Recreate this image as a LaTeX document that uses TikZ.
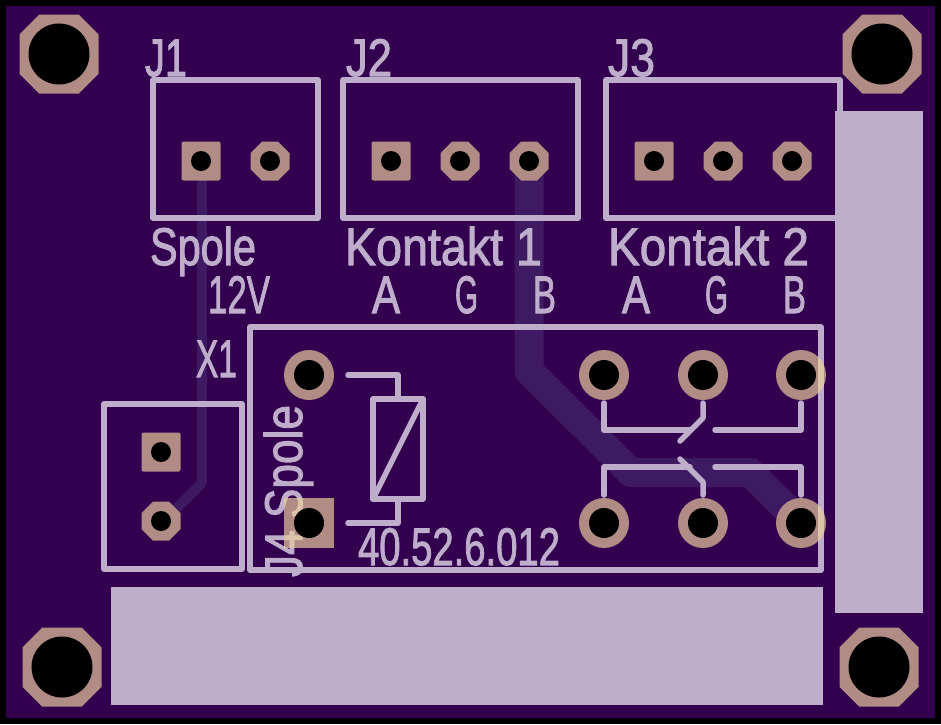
\documentclass[tikz,border=0pt]{standalone}
\usepackage{graphicx}
\usepackage{fontspec}
\setmainfont[FakeBold=2]{Liberation Sans}
\definecolor{board}{HTML}{330050}
\definecolor{trace}{HTML}{3E1A62}
\definecolor{silk}{HTML}{BFAECB}
\definecolor{copper}{HTML}{B08C84}
\definecolor{silkcu}{HTML}{DCC4A8}
\newsavebox\pcbbox
\newcommand\pcbtxt[2]{\sbox\pcbbox{\fontsize{53}{53}\selectfont #2}%
  \pgfmathsetmacro\pcbxs{#1/\the\wd\pcbbox}\scalebox{\pcbxs}[1]{\usebox\pcbbox}}
\newcommand\octpath[3]{% x y half
  (#1-#3,#2-#3*0.5) -- (#1-#3*0.5,#2-#3) -- (#1+#3*0.5,#2-#3) -- (#1+#3,#2-#3*0.5)
  -- (#1+#3,#2+#3*0.5) -- (#1+#3*0.5,#2+#3) -- (#1-#3*0.5,#2+#3) -- (#1-#3,#2+#3*0.5) -- cycle}
\newcommand\smallpad[2]{% x y
  (#1-19.5,#2-8) -- (#1-8,#2-19.5) -- (#1+8,#2-19.5) -- (#1+19.5,#2-8)
  -- (#1+19.5,#2+8) -- (#1+8,#2+19.5) -- (#1-8,#2+19.5) -- (#1-19.5,#2+8) -- cycle}
\tikzset{
  x=1pt,y=-1pt,
  silkline/.style={line width=5.5pt,line join=round,line cap=round},
  label/.style={inner sep=0pt,outer sep=0pt,anchor=base west,text=silk},
  cu/.style={fill=copper,draw=none},
  hole/.style={fill=black,draw=none},
}
\newcommand\relaysilk{%
  \draw[silkline] (250,327) rectangle (821,570);
  \node[inner sep=0pt,outer sep=0pt,anchor=base west,rotate=90] (lblJ4) at (302,577) {\pcbtxt{172}{J4 Spole}};
}
\begin{document}
\begin{tikzpicture}
\useasboundingbox (0,0) rectangle (941,724);
\fill[black] (0,0) rectangle (941,724);
\fill[board] (6,6) rectangle (935,718);
% traces
\draw[trace,line width=10pt,line join=round] (202,165) -- (202,483) -- (165,520);
\draw[trace,line width=29pt,line join=round] (529,165) -- (529,371) -- (631,472.5) -- (750,472.5) -- (801,523);
% mounting holes
\fill[cu] \octpath{59}{54}{39.5};
\fill[cu] \octpath{882}{54}{39.5};
\fill[cu] \octpath{62}{667}{39.5};
\fill[cu] \octpath{879}{667}{39.5};
% header pads
\fill[cu,rounded corners=2pt] (181.5,141.5) rectangle (220.5,180.5);
\fill[cu] \smallpad{270}{161};
\fill[cu,rounded corners=2pt] (371.5,141.5) rectangle (410.5,180.5);
\fill[cu] \smallpad{460}{161};
\fill[cu] \smallpad{529}{161};
\fill[cu,rounded corners=2pt] (634.5,141.5) rectangle (673.5,180.5);
\fill[cu] \smallpad{723}{161};
\fill[cu] \smallpad{792}{161};
\fill[cu,rounded corners=2pt] (141.5,432.5) rectangle (180.5,471.5);
\fill[cu] \smallpad{161}{521};
% relay pads
\fill[cu] (309,375) circle (25);
\fill[cu] (284,498) rectangle (334,548);
\foreach \px in {604,703,801}{
  \fill[cu] (\px,375) circle (25);
  \fill[cu] (\px,523) circle (25);
}
% silk boxes
\draw[silk,silkline] (153,80) rectangle (318,218);
\draw[silk,silkline] (343,80) rectangle (578,218);
\draw[silk,silkline] (606,80) rectangle (840,218);
\draw[silk,silkline] (104,404) rectangle (242,569);
{\color{silk}\relaysilk}
% relay symbol
\draw[silk,silkline] (348,375) -- (398,375) -- (398,399);
\draw[silk,silkline] (373,399) rectangle (423,499);
\draw[silk,silkline] (373,499) -- (423,399);
\draw[silk,silkline] (398,499) -- (398,523) -- (348,523);
\draw[silk,silkline] (604,403) -- (604,430) -- (690,430);
\draw[silk,silkline] (703,403) -- (703,418) -- (680,441);
\draw[silk,silkline] (715,430) -- (801,430) -- (801,403);
\draw[silk,silkline] (604,495) -- (604,467) -- (690,467);
\draw[silk,silkline] (703,495) -- (703,482) -- (680,459);
\draw[silk,silkline] (715,467) -- (801,467) -- (801,495);
% labels
\node[label] (lblJ1) at (145,76) {\pcbtxt{42}{J1}};
\node[label] (lblJ2) at (346,76) {\pcbtxt{46}{J2}};
\node[label] (lblJ3) at (608,76) {\pcbtxt{47}{J3}};
\node[label] (lblSpole) at (150,265) {\pcbtxt{106}{Spole}};
\node[label] (lblK1) at (345,265) {\pcbtxt{197}{Kontakt 1}};
\node[label] (lblK2) at (608,265) {\pcbtxt{201}{Kontakt 2}};
\node[label] (lbl12V) at (208,313) {\pcbtxt{62}{12V}};
\node[label] (lblA1) at (372,313) {\pcbtxt{28}{A}};
\node[label] (lblG1) at (455,313) {\pcbtxt{23}{G}};
\node[label] (lblB1) at (533,313) {\pcbtxt{23}{B}};
\node[label] (lblA2) at (622,313) {\pcbtxt{28}{A}};
\node[label] (lblG2) at (705,313) {\pcbtxt{23}{G}};
\node[label] (lblB2) at (783,313) {\pcbtxt{23}{B}};
\node[label] (lblX1) at (196,377) {\pcbtxt{41}{X1}};
\node[label] (lblRelay) at (358,565) {\pcbtxt{202}{40.52.6.012}};
% silk over copper
\begin{scope}
  \clip (284,498) rectangle (334,548) (801,375) circle (25) (801,523) circle (25);
  \colorlet{silk}{silkcu}
  {\color{silk}\relaysilk}
\end{scope}
% drill holes
\fill[hole] (59,54) circle (30.5);
\fill[hole] (882,54) circle (30.5);
\fill[hole] (62,667) circle (30.5);
\fill[hole] (879,667) circle (30.5);
\foreach \px/\py in {201/161,270/161,391/161,460/161,529/161,654/161,723/161,792/161,161/452,161/521}{
  \fill[hole] (\px,\py) circle (10);
}
\foreach \px/\py in {309/375,309/523,604/375,703/375,801/375,604/523,703/523,801/523}{
  \fill[hole] (\px,\py) circle (15);
}
% solid silk blocks
\fill[silk] (111,587) rectangle (823,705);
\fill[silk] (835,111) rectangle (923,613);
\end{tikzpicture}
\end{document}
